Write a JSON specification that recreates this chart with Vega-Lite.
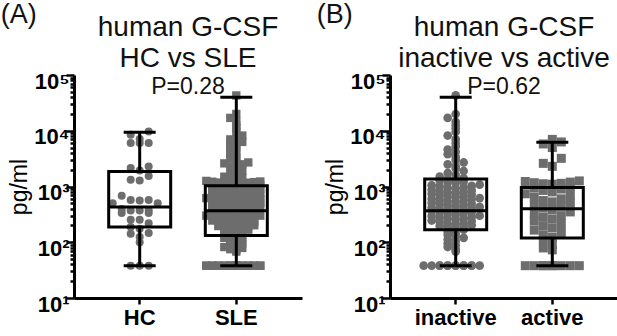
{
"$schema":"https://vega.github.io/schema/vega-lite/v6.json",
"padding":{"left":0,"top":1,"right":0,"bottom":0},
"spacing":14,
"datasets":{
"patients":[
{"cohort":"HC","value":38},{"cohort":"HC","value":38},{"cohort":"HC","value":38},{"cohort":"HC","value":100},{"cohort":"HC","value":124},{"cohort":"HC","value":142},{"cohort":"HC","value":146},{"cohort":"HC","value":174},{"cohort":"HC","value":187},{"cohort":"HC","value":220},{"cohort":"HC","value":252},{"cohort":"HC","value":252},{"cohort":"HC","value":333},{"cohort":"HC","value":333},{"cohort":"HC","value":372},{"cohort":"HC","value":372},{"cohort":"HC","value":380},{"cohort":"HC","value":394},{"cohort":"HC","value":500},{"cohort":"HC","value":500},{"cohort":"HC","value":562},{"cohort":"HC","value":574},{"cohort":"HC","value":574},{"cohort":"HC","value":680},{"cohort":"HC","value":1280},{"cohort":"HC","value":1320},{"cohort":"HC","value":1550},{"cohort":"HC","value":1940},{"cohort":"HC","value":2140},{"cohort":"HC","value":2280},{"cohort":"HC","value":6000},{"cohort":"HC","value":6000},{"cohort":"HC","value":6000},{"cohort":"HC","value":7080},{"cohort":"HC","value":8450},{"cohort":"HC","value":9680},
{"cohort":"SLE","activity":"inactive","value":43000},{"cohort":"SLE","activity":"inactive","value":20000},{"cohort":"SLE","activity":"inactive","value":17000},{"cohort":"SLE","activity":"inactive","value":14500},{"cohort":"SLE","activity":"inactive","value":12500},{"cohort":"SLE","activity":"inactive","value":11000},{"cohort":"SLE","activity":"inactive","value":9500},{"cohort":"SLE","activity":"inactive","value":8200},{"cohort":"SLE","activity":"inactive","value":7000},{"cohort":"SLE","activity":"inactive","value":6000},
{"cohort":"SLE","activity":"inactive","value":5200},{"cohort":"SLE","activity":"inactive","value":4600},{"cohort":"SLE","activity":"inactive","value":4200},{"cohort":"SLE","activity":"inactive","value":3800},{"cohort":"SLE","activity":"inactive","value":3400},{"cohort":"SLE","activity":"inactive","value":3000},{"cohort":"SLE","activity":"inactive","value":2700},{"cohort":"SLE","activity":"inactive","value":2500},{"cohort":"SLE","activity":"inactive","value":2300},{"cohort":"SLE","activity":"inactive","value":2100},{"cohort":"SLE","activity":"inactive","value":1900},{"cohort":"SLE","activity":"inactive","value":1750},{"cohort":"SLE","activity":"inactive","value":1600},{"cohort":"SLE","activity":"inactive","value":1500},{"cohort":"SLE","activity":"inactive","value":1420},
{"cohort":"SLE","activity":"inactive","value":1350},{"cohort":"SLE","activity":"inactive","value":1320},{"cohort":"SLE","activity":"inactive","value":1290},{"cohort":"SLE","activity":"inactive","value":1220},{"cohort":"SLE","activity":"inactive","value":1180},{"cohort":"SLE","activity":"inactive","value":1150},{"cohort":"SLE","activity":"inactive","value":1080},{"cohort":"SLE","activity":"inactive","value":1050},{"cohort":"SLE","activity":"inactive","value":1030},{"cohort":"SLE","activity":"inactive","value":1010},{"cohort":"SLE","activity":"inactive","value":970},{"cohort":"SLE","activity":"inactive","value":950},{"cohort":"SLE","activity":"inactive","value":920},{"cohort":"SLE","activity":"inactive","value":870},{"cohort":"SLE","activity":"inactive","value":850},{"cohort":"SLE","activity":"inactive","value":830},{"cohort":"SLE","activity":"inactive","value":800},{"cohort":"SLE","activity":"inactive","value":780},{"cohort":"SLE","activity":"inactive","value":760},{"cohort":"SLE","activity":"inactive","value":740},{"cohort":"SLE","activity":"inactive","value":720},{"cohort":"SLE","activity":"inactive","value":700},{"cohort":"SLE","activity":"inactive","value":670},{"cohort":"SLE","activity":"inactive","value":655},{"cohort":"SLE","activity":"inactive","value":640},{"cohort":"SLE","activity":"inactive","value":620},{"cohort":"SLE","activity":"inactive","value":605},{"cohort":"SLE","activity":"inactive","value":590},{"cohort":"SLE","activity":"inactive","value":575},{"cohort":"SLE","activity":"inactive","value":560},{"cohort":"SLE","activity":"inactive","value":545},{"cohort":"SLE","activity":"inactive","value":530},{"cohort":"SLE","activity":"inactive","value":510},{"cohort":"SLE","activity":"inactive","value":490},{"cohort":"SLE","activity":"inactive","value":480},{"cohort":"SLE","activity":"inactive","value":465},{"cohort":"SLE","activity":"inactive","value":455},{"cohort":"SLE","activity":"inactive","value":440},{"cohort":"SLE","activity":"inactive","value":430},{"cohort":"SLE","activity":"inactive","value":420},{"cohort":"SLE","activity":"inactive","value":410},{"cohort":"SLE","activity":"inactive","value":400},{"cohort":"SLE","activity":"inactive","value":390},{"cohort":"SLE","activity":"inactive","value":380},{"cohort":"SLE","activity":"inactive","value":375},{"cohort":"SLE","activity":"inactive","value":360},{"cohort":"SLE","activity":"inactive","value":350},{"cohort":"SLE","activity":"inactive","value":340},{"cohort":"SLE","activity":"inactive","value":330},{"cohort":"SLE","activity":"inactive","value":320},{"cohort":"SLE","activity":"inactive","value":310},{"cohort":"SLE","activity":"inactive","value":300},{"cohort":"SLE","activity":"inactive","value":295},{"cohort":"SLE","activity":"inactive","value":288},{"cohort":"SLE","activity":"inactive","value":280},{"cohort":"SLE","activity":"inactive","value":270},{"cohort":"SLE","activity":"inactive","value":265},{"cohort":"SLE","activity":"inactive","value":255},{"cohort":"SLE","activity":"inactive","value":245},{"cohort":"SLE","activity":"inactive","value":240},{"cohort":"SLE","activity":"inactive","value":232},{"cohort":"SLE","activity":"inactive","value":220},{"cohort":"SLE","activity":"inactive","value":215},{"cohort":"SLE","activity":"inactive","value":210},{"cohort":"SLE","activity":"inactive","value":202},{"cohort":"SLE","activity":"inactive","value":195},{"cohort":"SLE","activity":"inactive","value":190},{"cohort":"SLE","activity":"inactive","value":185},{"cohort":"SLE","activity":"inactive","value":176},{"cohort":"SLE","activity":"inactive","value":168},
{"cohort":"SLE","activity":"inactive","value":155},{"cohort":"SLE","activity":"inactive","value":145},{"cohort":"SLE","activity":"inactive","value":135},{"cohort":"SLE","activity":"inactive","value":128},{"cohort":"SLE","activity":"inactive","value":120},{"cohort":"SLE","activity":"inactive","value":112},{"cohort":"SLE","activity":"inactive","value":105},{"cohort":"SLE","activity":"inactive","value":95},{"cohort":"SLE","activity":"inactive","value":88},{"cohort":"SLE","activity":"inactive","value":82},{"cohort":"SLE","activity":"inactive","value":75},{"cohort":"SLE","activity":"inactive","value":68},
{"cohort":"SLE","activity":"inactive","value":38},{"cohort":"SLE","activity":"inactive","value":38},{"cohort":"SLE","activity":"inactive","value":38},{"cohort":"SLE","activity":"inactive","value":38},{"cohort":"SLE","activity":"inactive","value":38},{"cohort":"SLE","activity":"inactive","value":38},{"cohort":"SLE","activity":"inactive","value":38},{"cohort":"SLE","activity":"inactive","value":38},{"cohort":"SLE","activity":"inactive","value":38},{"cohort":"SLE","activity":"inactive","value":38},{"cohort":"SLE","activity":"inactive","value":38},{"cohort":"SLE","activity":"inactive","value":38},{"cohort":"SLE","activity":"inactive","value":38},
{"cohort":"SLE","activity":"active","value":7000},{"cohort":"SLE","activity":"active","value":6300},{"cohort":"SLE","activity":"active","value":5800},{"cohort":"SLE","activity":"active","value":5000},{"cohort":"SLE","activity":"active","value":3200},{"cohort":"SLE","activity":"active","value":2600},{"cohort":"SLE","activity":"active","value":2300},
{"cohort":"SLE","activity":"active","value":1260},{"cohort":"SLE","activity":"active","value":1230},{"cohort":"SLE","activity":"active","value":1200},{"cohort":"SLE","activity":"active","value":1170},{"cohort":"SLE","activity":"active","value":1140},{"cohort":"SLE","activity":"active","value":1120},{"cohort":"SLE","activity":"active","value":1100},
{"cohort":"SLE","activity":"active","value":1000},{"cohort":"SLE","activity":"active","value":950},{"cohort":"SLE","activity":"active","value":900},{"cohort":"SLE","activity":"active","value":850},{"cohort":"SLE","activity":"active","value":800},{"cohort":"SLE","activity":"active","value":740},{"cohort":"SLE","activity":"active","value":700},{"cohort":"SLE","activity":"active","value":650},{"cohort":"SLE","activity":"active","value":600},{"cohort":"SLE","activity":"active","value":560},{"cohort":"SLE","activity":"active","value":530},{"cohort":"SLE","activity":"active","value":510},{"cohort":"SLE","activity":"active","value":470},{"cohort":"SLE","activity":"active","value":440},{"cohort":"SLE","activity":"active","value":410},{"cohort":"SLE","activity":"active","value":380},{"cohort":"SLE","activity":"active","value":350},{"cohort":"SLE","activity":"active","value":320},{"cohort":"SLE","activity":"active","value":300},{"cohort":"SLE","activity":"active","value":280},{"cohort":"SLE","activity":"active","value":260},{"cohort":"SLE","activity":"active","value":240},{"cohort":"SLE","activity":"active","value":215},{"cohort":"SLE","activity":"active","value":195},{"cohort":"SLE","activity":"active","value":180},{"cohort":"SLE","activity":"active","value":165},{"cohort":"SLE","activity":"active","value":150},{"cohort":"SLE","activity":"active","value":135},{"cohort":"SLE","activity":"active","value":122},{"cohort":"SLE","activity":"active","value":111},{"cohort":"SLE","activity":"active","value":90},{"cohort":"SLE","activity":"active","value":79},{"cohort":"SLE","activity":"active","value":73},
{"cohort":"SLE","activity":"active","value":38},{"cohort":"SLE","activity":"active","value":38},{"cohort":"SLE","activity":"active","value":38},{"cohort":"SLE","activity":"active","value":38},{"cohort":"SLE","activity":"active","value":38},{"cohort":"SLE","activity":"active","value":38},{"cohort":"SLE","activity":"active","value":38},{"cohort":"SLE","activity":"active","value":38},{"cohort":"SLE","activity":"active","value":38}
],
"stats":[
{"panel":"A","grp":"HC","min":38,"q1":187,"median":428,"q3":1860,"max":9440},
{"panel":"A","grp":"SLE","min":38,"q1":132,"median":367,"q3":1030,"max":40000},
{"panel":"B","grp":"inactive","min":38,"q1":167,"median":367,"q3":1370,"max":40000},
{"panel":"B","grp":"active","min":38,"q1":119,"median":400,"q3":960,"max":6250}
]
},
"hconcat":[
{"title":{"text":"(A)","anchor":"start","frame":"bounds","dx":-8,"offset":-15,"fontSize":27,"fontWeight":"normal","color":"#111"},
 "vconcat":[{
 "width":228,"height":223,
 "title":{"text":["human G-CSF","HC vs SLE"],"subtitle":"P=0.28","frame":"group","anchor":"middle","offset":-29,"fontSize":28,"lineHeight":31,"subtitleFontSize":23,"subtitlePadding":3,"color":"#111","subtitleColor":"#111"},
 "layer":[
 {"data":{"name":"patients"},
  "transform":[
   {"calculate":"log(datum.value)/LN10","as":"lv"},
   {"calculate":"datum.cohort=='HC'?0.16:0.08","as":"bw"},
   {"calculate":"floor(datum.lv/datum.bw+1e-6)","as":"bin"},
   {"window":[{"op":"row_number","as":"rn"}],"groupby":["cohort","bin"],"sort":[{"field":"value","order":"ascending"}]},
   {"calculate":"(datum.rn-1)%(datum.cohort=='HC'?7:10)","as":"k"},
   {"calculate":"(datum.k%2==0?datum.k/2:-(datum.k+1)/2)*(datum.cohort=='HC'?9:6)","as":"off"}
  ],
  "mark":{"type":"point","filled":true,"opacity":1,"strokeWidth":0},
  "encoding":{
   "x":{"field":"cohort","type":"nominal","scale":{"domain":["HC","SLE"],"paddingInner":0,"paddingOuter":0.18},"axis":{"title":null,"labelAngle":0,"tickSize":6,"labelPadding":3}},
   "xOffset":{"field":"off","type":"quantitative","scale":{"domain":[-48.3,48.3],"range":[0,96.6]}},
   "y":{"field":"value","type":"quantitative","scale":{"type":"log","domain":[10,100000],"nice":false},
    "axis":{"title":"pg/ml","titleFontSize":23,"titleFontWeight":"normal","titlePadding":2,
     "values":[10,20,30,40,50,60,70,80,90,100,200,300,400,500,600,700,800,900,1000,2000,3000,4000,5000,6000,7000,8000,9000,10000,20000,30000,40000,50000,60000,70000,80000,90000,100000],
     "labelExpr":"datum.value==10?'10¹':datum.value==100?'10²':datum.value==1000?'10³':datum.value==10000?'10⁴':datum.value==100000?'10⁵':''",
     "tickSize":{"condition":{"test":"datum.value==10||datum.value==100||datum.value==1000||datum.value==10000||datum.value==100000","value":8},"value":4},
     "labelOverlap":false,"labelFlush":false,"labelOffset":6,"labelPadding":-3}},
   "shape":{"field":"cohort","type":"nominal","scale":{"domain":["HC","SLE"],"range":["circle","square"]},"legend":null},
   "size":{"field":"cohort","type":"nominal","scale":{"domain":["HC","SLE"],"range":[64,81]},"legend":null},
   "color":{"value":"#6d6d6d"}
  }},
 {"data":{"name":"stats"},"transform":[{"filter":"datum.panel=='A'"}],
  "mark":{"type":"bar","width":62,"fill":"transparent","stroke":"black","strokeWidth":3},
  "encoding":{"x":{"field":"grp","type":"nominal"},"y":{"field":"q1","type":"quantitative"},"y2":{"field":"q3"}}},
 {"data":{"name":"stats"},"transform":[{"filter":"datum.panel=='A'"}],
  "mark":{"type":"rule","color":"black","strokeWidth":3},
  "encoding":{"x":{"field":"grp","type":"nominal"},"y":{"field":"min","type":"quantitative"},"y2":{"field":"q1"}}},
 {"data":{"name":"stats"},"transform":[{"filter":"datum.panel=='A'"}],
  "mark":{"type":"rule","color":"black","strokeWidth":3},
  "encoding":{"x":{"field":"grp","type":"nominal"},"y":{"field":"q3","type":"quantitative"},"y2":{"field":"max"}}},
 {"data":{"name":"stats"},"transform":[{"filter":"datum.panel=='A'"},{"fold":["min","max"],"as":["stat","v"]}],
  "mark":{"type":"tick","color":"black","size":32,"thickness":3,"opacity":1},
  "encoding":{"x":{"field":"grp","type":"nominal"},"y":{"field":"v","type":"quantitative"}}},
 {"data":{"name":"stats"},"transform":[{"filter":"datum.panel=='A'"}],
  "mark":{"type":"tick","color":"black","size":62,"thickness":3,"opacity":1},
  "encoding":{"x":{"field":"grp","type":"nominal"},"y":{"field":"median","type":"quantitative"}}}
 ]}]},
{"title":{"text":"(B)","anchor":"start","frame":"bounds","dx":-8,"offset":-15,"fontSize":27,"fontWeight":"normal","color":"#111"},
 "vconcat":[{
 "width":228,"height":223,
 "title":{"text":["human G-CSF","inactive vs active"],"subtitle":"P=0.62","frame":"group","anchor":"middle","offset":-29,"fontSize":28,"lineHeight":31,"subtitleFontSize":23,"subtitlePadding":3,"color":"#111","subtitleColor":"#111"},
 "layer":[
 {"data":{"name":"patients"},
  "transform":[
   {"filter":"datum.cohort=='SLE'"},
   {"calculate":"log(datum.value)/LN10","as":"lv"},
   {"calculate":"datum.activity=='active'?0.16:0.08","as":"bw"},
   {"calculate":"floor(datum.lv/datum.bw+1e-6)","as":"bin"},
   {"window":[{"op":"row_number","as":"rn"}],"groupby":["activity","bin"],"sort":[{"field":"value","order":"ascending"}]},
   {"calculate":"(datum.rn-1)%(datum.activity=='active'?7:8)","as":"k"},
   {"calculate":"(datum.k%2==0?datum.k/2:-(datum.k+1)/2)*(datum.activity=='active'?9:8)","as":"off"}
  ],
  "mark":{"type":"point","filled":true,"opacity":1,"strokeWidth":0},
  "encoding":{
   "x":{"field":"activity","type":"nominal","scale":{"domain":["inactive","active"],"paddingInner":0,"paddingOuter":0.18},"axis":{"title":null,"labelAngle":0,"tickSize":6,"labelPadding":3}},
   "xOffset":{"field":"off","type":"quantitative","scale":{"domain":[-48.3,48.3],"range":[0,96.6]}},
   "y":{"field":"value","type":"quantitative","scale":{"type":"log","domain":[10,100000],"nice":false},
    "axis":{"title":"pg/ml","titleFontSize":23,"titleFontWeight":"normal","titlePadding":2,
     "values":[10,20,30,40,50,60,70,80,90,100,200,300,400,500,600,700,800,900,1000,2000,3000,4000,5000,6000,7000,8000,9000,10000,20000,30000,40000,50000,60000,70000,80000,90000,100000],
     "labelExpr":"datum.value==10?'10¹':datum.value==100?'10²':datum.value==1000?'10³':datum.value==10000?'10⁴':datum.value==100000?'10⁵':''",
     "tickSize":{"condition":{"test":"datum.value==10||datum.value==100||datum.value==1000||datum.value==10000||datum.value==100000","value":8},"value":4},
     "labelOverlap":false,"labelFlush":false,"labelOffset":6,"labelPadding":-3}},
   "shape":{"field":"activity","type":"nominal","scale":{"domain":["inactive","active"],"range":["circle","square"]},"legend":null},
   "size":{"field":"activity","type":"nominal","scale":{"domain":["inactive","active"],"range":[64,81]},"legend":null},
   "color":{"value":"#6d6d6d"}
  }},
 {"data":{"name":"stats"},"transform":[{"filter":"datum.panel=='B'"}],
  "mark":{"type":"bar","width":62,"fill":"transparent","stroke":"black","strokeWidth":3},
  "encoding":{"x":{"field":"grp","type":"nominal"},"y":{"field":"q1","type":"quantitative"},"y2":{"field":"q3"}}},
 {"data":{"name":"stats"},"transform":[{"filter":"datum.panel=='B'"}],
  "mark":{"type":"rule","color":"black","strokeWidth":3},
  "encoding":{"x":{"field":"grp","type":"nominal"},"y":{"field":"min","type":"quantitative"},"y2":{"field":"q1"}}},
 {"data":{"name":"stats"},"transform":[{"filter":"datum.panel=='B'"}],
  "mark":{"type":"rule","color":"black","strokeWidth":3},
  "encoding":{"x":{"field":"grp","type":"nominal"},"y":{"field":"q3","type":"quantitative"},"y2":{"field":"max"}}},
 {"data":{"name":"stats"},"transform":[{"filter":"datum.panel=='B'"},{"fold":["min","max"],"as":["stat","v"]}],
  "mark":{"type":"tick","color":"black","size":32,"thickness":3,"opacity":1},
  "encoding":{"x":{"field":"grp","type":"nominal"},"y":{"field":"v","type":"quantitative"}}},
 {"data":{"name":"stats"},"transform":[{"filter":"datum.panel=='B'"}],
  "mark":{"type":"tick","color":"black","size":62,"thickness":3,"opacity":1},
  "encoding":{"x":{"field":"grp","type":"nominal"},"y":{"field":"median","type":"quantitative"}}}
 ]}]}
],
"config":{
 "font":"Liberation Sans",
 "view":{"stroke":null},
 "axis":{"domainColor":"black","domainWidth":3,"tickColor":"black","tickWidth":2.5,"labelColor":"black","labelFontSize":22,"labelFontWeight":"bold","grid":false,"titleColor":"black"},
 "title":{"fontWeight":"normal"}
}
}
